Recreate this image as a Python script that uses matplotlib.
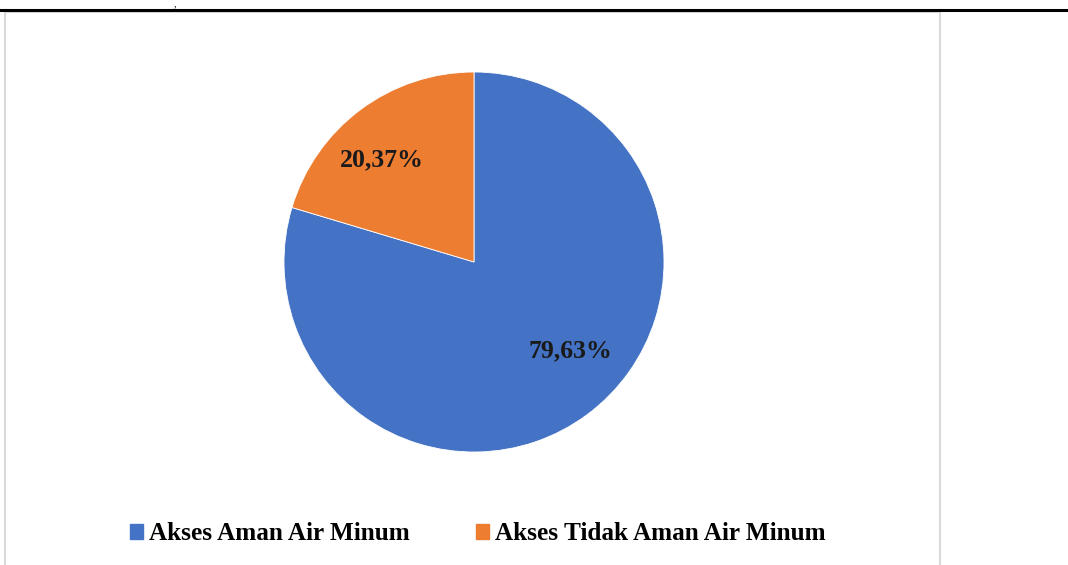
import matplotlib
matplotlib.use("Agg")
import matplotlib.pyplot as plt
from matplotlib.lines import Line2D
from matplotlib.patches import Rectangle

# data
labels = ["Akses Aman Air Minum", "Akses Tidak Aman Air Minum"]
values = [79.63, 20.37]
value_labels = ["79,63%", "20,37%"]
colors = ["#4472C4", "#ED7D31"]

W, H = 1068, 565
fig = plt.figure(figsize=(W / 100, H / 100), dpi=100)
fig.patch.set_facecolor("white")

serif = ["Liberation Serif", "DejaVu Serif"]

# document frame: top rule and chart box
fig.add_artist(Line2D([0, 1], [1 - 10 / H, 1 - 10 / H], color="black", lw=2.2))
fig.add_artist(Rectangle((5 / W, -0.01), 935 / W, 1 - 12 / H + 0.01,
                         fill=False, edgecolor="#d9d9d9", lw=1.5))
fig.text(174 / W, 1 - 4 / H, ",", fontsize=7, family=serif, va="center")

# pie
cx, cy, r = 474, 262, 190
ax = fig.add_axes([(cx - r) / W, (H - cy - r) / H, 2 * r / W, 2 * r / H])
wedges, _ = ax.pie(values, colors=colors, startangle=90, counterclock=False,
                   wedgeprops=dict(linewidth=0.6, edgecolor="white"))
ax.set_xlim(-1, 1)
ax.set_ylim(-1, 1)
ax.set_aspect("equal")

label_pos = [(0.505, -0.47), (-0.484, 0.54)]
for (x, y), txt in zip(label_pos, value_labels):
    ax.text(x, y, txt, ha="center", va="center", fontsize=18.5,
            fontweight="bold", family=serif, color="#1a1a1a")

# legend
handles = [Rectangle((0, 0), 1, 1, color=c) for c in colors]
leg = fig.legend(handles, labels, loc="center", bbox_to_anchor=(478 / W, 1 - 534 / H),
                 ncol=2, frameon=False, handlelength=0.5, handleheight=0.5,
                 handletextpad=0.25, columnspacing=2.6,
                 prop=dict(family=serif, weight="bold", size=18.2))

fig.savefig("out.png", dpi=100)
